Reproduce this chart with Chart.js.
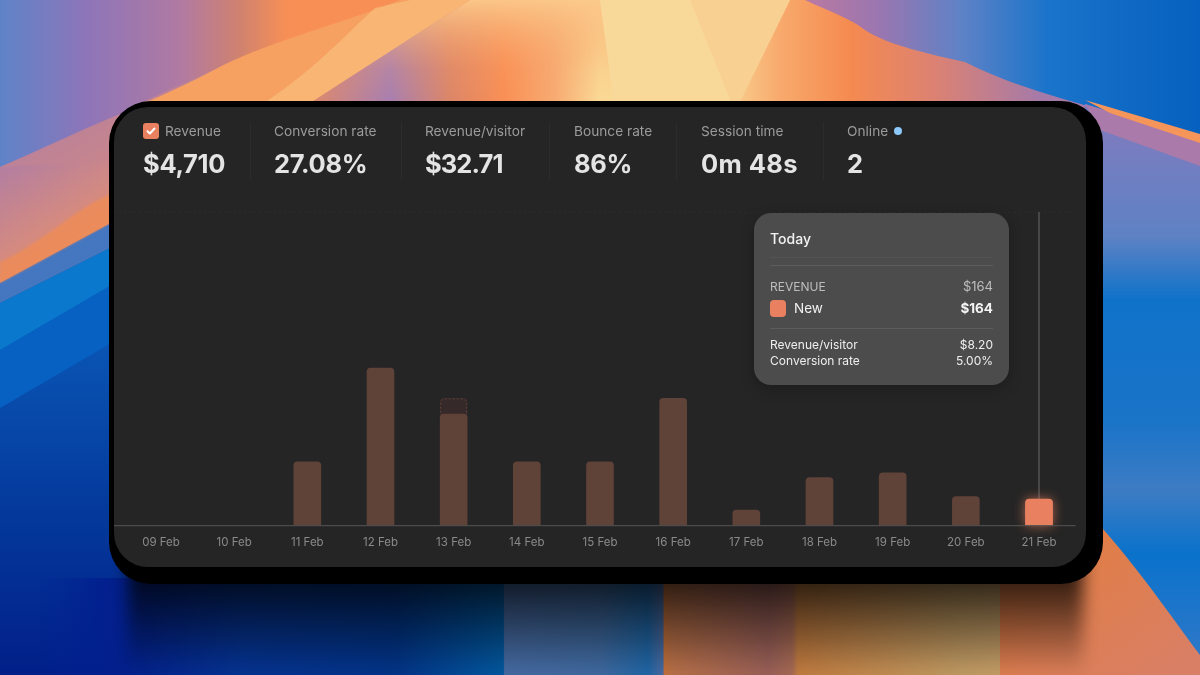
<!DOCTYPE html>
<html><head><meta charset="utf-8">
<script src="https://cdn.jsdelivr.net/npm/chart.js@4/dist/chart.umd.min.js"></script>
<style>
html,body{margin:0;padding:0;width:1200px;height:675px;overflow:hidden;background:#1b62b8;font-family:Inter,"Noto Sans",sans-serif}
#bg{position:absolute;left:0;top:0}
#shadow{position:absolute;left:109px;top:101px;width:994px;height:483px;background:#000;border-radius:42px}
#card{position:absolute;left:114px;top:107px;width:972px;height:460px;background:#252525;border-radius:34px}
#wrap{position:absolute;left:0;top:0;width:1200px;height:675px}
.stat{position:absolute;top:123px;color:#9b9b9b;font-size:13.7px;line-height:16px;white-space:nowrap}
.val{position:absolute;top:148px;color:#e4e4e4;font-size:25.5px;line-height:32px;font-weight:700;letter-spacing:-.3px;white-space:nowrap}
.sep{position:absolute;top:122px;width:1px;height:58px;background:#2c2c2c}
#chk{position:absolute;left:143px;top:123px;width:16px;height:16px;border-radius:3px;background:#e9805f}
#dot{position:absolute;left:894px;top:127px;width:8px;height:8px;border-radius:50%;background:#8cc8fb}
#tip{position:absolute;left:754px;top:213px;width:255px;height:172px;border-radius:17px;background:#4c4c4c;color:#eee;box-shadow:0 4px 14px rgba(0,0,0,.25)}
#tip div{position:absolute;white-space:nowrap}
#tip .r{right:16px;text-align:right}
#tip .l{left:16px}
#tip .hr{left:16px;right:16px;height:1px;background:#5c5c5c}
</style></head><body>
<svg id="bg" width="1200" height="675" viewBox="0 0 1200 675">
<defs>
<filter id="s"><feGaussianBlur stdDeviation="1"/></filter>
<filter id="m" x="-5%" y="-20%" width="110%" height="140%"><feGaussianBlur stdDeviation="8"/></filter>
<linearGradient id="deep" x1="0" y1="340" x2="0" y2="675" gradientUnits="userSpaceOnUse"><stop offset="0" stop-color="#0a55b4"/><stop offset=".5" stop-color="#043a9c"/><stop offset="1" stop-color="#021f88"/></linearGradient>
<linearGradient id="topg" x1="0" y1="0" x2="300" y2="0" gradientUnits="userSpaceOnUse"><stop offset="0" stop-color="#5f83c8"/><stop offset=".3" stop-color="#8f75b8"/><stop offset=".6" stop-color="#b07aa2"/><stop offset=".8" stop-color="#d0826f"/><stop offset=".95" stop-color="#f68f57"/><stop offset="1" stop-color="#f88f55"/></linearGradient>
<linearGradient id="pinkg" x1="20" y1="160" x2="90" y2="270" gradientUnits="userSpaceOnUse"><stop offset="0" stop-color="#b57f9f"/><stop offset=".55" stop-color="#d48a80"/><stop offset="1" stop-color="#f28d52"/></linearGradient>
<linearGradient id="fan" x1="300" y1="0" x2="600" y2="0" gradientUnits="userSpaceOnUse"><stop offset="0" stop-color="#e58a62"/><stop offset=".3" stop-color="#a87fb0"/><stop offset=".5" stop-color="#dc8668"/><stop offset=".68" stop-color="#f98f55"/><stop offset=".85" stop-color="#f7ab72"/><stop offset="1" stop-color="#fad995"/></linearGradient>
<linearGradient id="fantop" x1="0" y1="0" x2="0" y2="100" gradientUnits="userSpaceOnUse"><stop offset="0" stop-color="#fbc98a" stop-opacity=".95"/><stop offset=".7" stop-color="#f8a46a" stop-opacity=".15"/><stop offset="1" stop-color="#f8a46a" stop-opacity="0"/></linearGradient>
<linearGradient id="rfan" x1="735" y1="0" x2="1040" y2="0" gradientUnits="userSpaceOnUse"><stop offset="0" stop-color="#f8cb8b"/><stop offset=".15" stop-color="#f8a96c"/><stop offset=".38" stop-color="#f58a50"/><stop offset=".65" stop-color="#dc8272"/><stop offset="1" stop-color="#a67aa8"/></linearGradient>
<linearGradient id="rtop" x1="800" y1="0" x2="1200" y2="0" gradientUnits="userSpaceOnUse"><stop offset="0" stop-color="#bd7aa0"/><stop offset=".2" stop-color="#9a76b0"/><stop offset=".4" stop-color="#5f82c6"/><stop offset=".62" stop-color="#1a74ca"/><stop offset="1" stop-color="#0560bf"/></linearGradient>
<linearGradient id="rside" x1="0" y1="130" x2="0" y2="660" gradientUnits="userSpaceOnUse"><stop offset="0" stop-color="#7c7cbf"/><stop offset=".2" stop-color="#5e82c4"/><stop offset=".32" stop-color="#0f72c9"/><stop offset=".55" stop-color="#1a74c8"/><stop offset=".68" stop-color="#3d7cc4"/><stop offset=".8" stop-color="#0a72cb"/><stop offset="1" stop-color="#2f78c8"/></linearGradient>
<linearGradient id="rbot" x1="1100" y1="540" x2="1200" y2="675" gradientUnits="userSpaceOnUse"><stop offset="0" stop-color="#e07d48"/><stop offset="1" stop-color="#d87f68"/></linearGradient>
<linearGradient id="bot" x1="0" y1="0" x2="1200" y2="0" gradientUnits="userSpaceOnUse">
<stop offset="0" stop-color="#02229a"/><stop offset=".1" stop-color="#021f8c"/><stop offset=".2" stop-color="#053392"/><stop offset=".33" stop-color="#023488"/><stop offset=".4195" stop-color="#02589f"/>
<stop offset=".4205" stop-color="#466aa2"/><stop offset=".5" stop-color="#3f699f"/><stop offset=".54" stop-color="#1f66a6"/><stop offset=".5525" stop-color="#4a6aa0"/><stop offset=".5535" stop-color="#c4703a"/>
<stop offset=".56" stop-color="#b87048"/><stop offset=".64" stop-color="#9a6058"/><stop offset=".66" stop-color="#a86a55"/><stop offset=".665" stop-color="#c27c40"/><stop offset=".8" stop-color="#c09a62"/><stop offset=".86" stop-color="#c8a06a"/><stop offset=".885" stop-color="#e09a55"/><stop offset=".92" stop-color="#e5814f"/><stop offset="1" stop-color="#d87f68"/></linearGradient>
<linearGradient id="shade" x1="0" y1="578" x2="0" y2="675" gradientUnits="userSpaceOnUse"><stop offset="0" stop-color="#000" stop-opacity=".78"/><stop offset="1" stop-color="#000" stop-opacity="0"/></linearGradient>
<linearGradient id="botL" x1="40" y1="0" x2="110" y2="0" gradientUnits="userSpaceOnUse"><stop offset="0" stop-color="#000"/><stop offset="1" stop-color="#fff"/></linearGradient>
<mask id="ml" maskUnits="userSpaceOnUse" x="0" y="0" width="1200" height="675"><rect width="1200" height="675" fill="url(#botL)"/></mask>
</defs>
<rect width="1200" height="675" fill="url(#deep)"/>
<!-- left bands -->
<polygon points="0,408 120,338 120,280 0,350" fill="#0761c2"/>
<polygon points="0,350 120,280 120,243 0,303" fill="#0a79cd"/>
<polygon points="0,303 120,243 120,218 0,283" fill="#4576c0"/>
<polygon points="0,0 480,0 300,115 120,218 0,283" fill="url(#pinkg)"/>
<path d="M110 195 C 80 205,40 245,0 262 L0 283 L120 218 L120 190Z" fill="#f08c54" opacity=".75" filter="url(#s)"/>
<path d="M0 0 L430 0 C 340 30,260 50,210 72 C 180 85,150 97,125 112 C 80 130,40 150,0 167 Z" fill="url(#topg)"/>
<path d="M0 167 C 50 146,100 122,135 108 L 200 100 L120 160 Z" fill="#c58590" opacity=".55"/>
<path d="M400 0 C 330 28,270 40,210 72 C 180 88,155 98,125 112 L 300 112 L480 0 Z" fill="#f6a062"/>
<path d="M375 8 C 345 35,310 75,250 112 L 300 112 L480 0 L 410 0Z" fill="#fac684" opacity=".55"/>
<polygon points="470,0 620,0 620,112 296,112" fill="url(#fan)"/>
<polygon points="470,0 620,0 620,112 296,112" fill="url(#fantop)"/>
<rect x="800" y="0" width="400" height="175" fill="url(#rtop)"/>
<path d="M780 0 L805 0 C 830 12,850 18,865 30 C 890 46,930 54,965 62 C 1010 85,1060 98,1110 112 L 730 112 Z" fill="url(#rfan)"/>
<polygon points="600,0 790,0 735,112 615,112" fill="#f9d99a"/>
<polygon points="690,0 790,0 735,112" fill="#f8c88c" opacity=".55"/>
<!-- right column -->
<polygon points="1085,104 1200,140 1200,675 1085,675" fill="url(#rside)"/>
<polygon points="1085,104 1200,140 1200,166 1100,130" fill="#a97aaa"/>
<path d="M1085 100 L1200 134 L1200 143 L1110 113 Z" fill="#f6955a"/>
<!-- bottom -->
<rect x="40" y="578" width="1070" height="97" fill="url(#bot)" mask="url(#ml)"/>
<path d="M1095 520 C 1140 570,1170 615,1200 655 L1200 675 L1000 675 L1000 520 Z" fill="url(#rbot)"/>
<rect x="128" y="556" width="955" height="124" fill="url(#shade)" filter="url(#m)"/>
</svg>
<div id="shadow"></div>
<div id="card"></div>
<div id="wrap"><canvas id="c" width="1200" height="675"></canvas></div>
<div class="sep" style="left:250px"></div><div class="sep" style="left:401px"></div><div class="sep" style="left:549px"></div><div class="sep" style="left:676px"></div><div class="sep" style="left:823px"></div>
<div id="chk"><svg width="16" height="16" viewBox="0 0 16 16"><path d="M4.5 8.2l2.4 2.3 4.6-5" fill="none" stroke="#fff" stroke-width="2" stroke-linecap="round" stroke-linejoin="round"/></svg></div>
<div class="stat" style="left:165px">Revenue</div><div class="val" style="left:143px">$4,710</div>
<div class="stat" style="left:274px">Conversion rate</div><div class="val" style="left:274px">27.08%</div>
<div class="stat" style="left:425px">Revenue/visitor</div><div class="val" style="left:425px;letter-spacing:-.9px">$32.71</div>
<div class="stat" style="left:574px">Bounce rate</div><div class="val" style="left:574px">86%</div>
<div class="stat" style="left:701px">Session time</div><div class="val" style="left:701px;letter-spacing:.4px">0m 48s</div>
<div class="stat" style="left:847px">Online</div><div id="dot"></div><div class="val" style="left:847px">2</div>
<div id="tip">
<div class="l" style="top:17px;font-size:14px;font-weight:500;color:#f2f2f2">Today</div>
<div class="hr" style="top:44px;background:#535353"></div><div class="hr" style="top:52px"></div>
<div class="l" style="top:66px;font-size:12px;color:#bdbdbd">REVENUE</div><div class="r" style="top:65px;font-size:13px;color:#bdbdbd">$164</div>
<div class="l" style="top:87px;width:16px;height:17px;border-radius:4px;background:#e9805f"></div>
<div style="left:40px;top:87px;font-size:13.5px;color:#f0f0f0">New</div><div class="r" style="top:87px;font-size:13.5px;font-weight:700;color:#f4f4f4">$164</div>
<div class="hr" style="top:115px"></div>
<div class="l" style="top:124px;font-size:12px">Revenue/visitor</div><div class="r" style="top:124px;font-size:12px">$8.20</div>
<div class="l" style="top:140px;font-size:12px">Conversion rate</div><div class="r" style="top:140px;font-size:12px">5.00%</div>
</div>
<script>
const categories=["09 Feb","10 Feb","11 Feb","12 Feb","13 Feb","14 Feb","15 Feb","16 Feb","17 Feb","18 Feb","19 Feb","20 Feb","21 Feb"];
const newRevenue=[null,null,400,990,700,400,400,800,95,300,330,180,164];
const dashedRevenue=[null,null,null,null,100,null,null,null,null,null,null,null,null];
const yMax=1975;
const yTicks=[1975];
const active=12;
const dim="#5f4238",hot="#e9805f";
const overlay={id:"overlay",
 beforeDatasetsDraw(ch){const {ctx,chartArea:a,scales:{x,y}}=ch;ctx.save();
  ctx.strokeStyle="#2b2b2b";ctx.setLineDash([2,3]);ctx.lineWidth=1;
  yTicks.forEach(t=>{const p=Math.round(y.getPixelForValue(t))+.5;ctx.beginPath();ctx.moveTo(114,p);ctx.lineTo(a.right,p);ctx.stroke();});
  ctx.setLineDash([]);
  const lx=x.getPixelForValue(active);ctx.strokeStyle="#6a6a6a";ctx.beginPath();ctx.moveTo(lx,a.top);ctx.lineTo(lx,a.bottom);ctx.stroke();
  const b=ch.getDatasetMeta(0).data[active];ctx.shadowColor="rgba(233,128,95,.75)";ctx.shadowBlur=12;ctx.fillStyle=hot;
  ctx.beginPath();ctx.roundRect(b.x-b.width/2,b.y,b.width,b.base-b.y,[4,4,0,0]);ctx.fill();ctx.restore();},
 afterDatasetsDraw(ch){const {ctx,chartArea:a}=ch;ctx.save();
  ch.getDatasetMeta(1).data.forEach((b,i)=>{if(!dashedRevenue[i])return;ctx.strokeStyle="#5f4238";ctx.setLineDash([2,2]);ctx.lineWidth=1;
   ctx.beginPath();ctx.roundRect(b.x-b.width/2+.5,b.y+.5,b.width-1,b.base-b.y,[4,4,0,0]);ctx.stroke();});
  ctx.setLineDash([]);ctx.strokeStyle="#555";ctx.lineWidth=1;ctx.beginPath();ctx.moveTo(114,a.bottom+.5);ctx.lineTo(a.right,a.bottom+.5);ctx.stroke();ctx.restore();}};
new Chart(document.getElementById("c"),{type:"bar",
 data:{labels:categories,datasets:[
  {label:"New",data:newRevenue,backgroundColor:categories.map((_,i)=>i===active?hot:dim),borderRadius:{topLeft:4,topRight:4,bottomLeft:0,bottomRight:0},borderSkipped:false,barThickness:27,stack:"s"},
  {label:"Pending",data:dashedRevenue,backgroundColor:"#35292a",borderRadius:{topLeft:4,topRight:4,bottomLeft:0,bottomRight:0},borderSkipped:false,barThickness:27,stack:"s"}]},
 plugins:[overlay],
 options:{responsive:false,animation:false,devicePixelRatio:1,
  layout:{padding:{left:124.4,right:124.4,top:212,bottom:124}},
  plugins:{legend:{display:false},tooltip:{enabled:false}},
  scales:{
   x:{stacked:true,grid:{display:false},border:{display:false},ticks:{color:"#8a8a8a",font:{family:"Inter",size:11.5},padding:2,maxRotation:0,autoSkip:false}},
   y:{stacked:true,display:false,min:0,max:yMax}}}});
</script>
</body></html>
